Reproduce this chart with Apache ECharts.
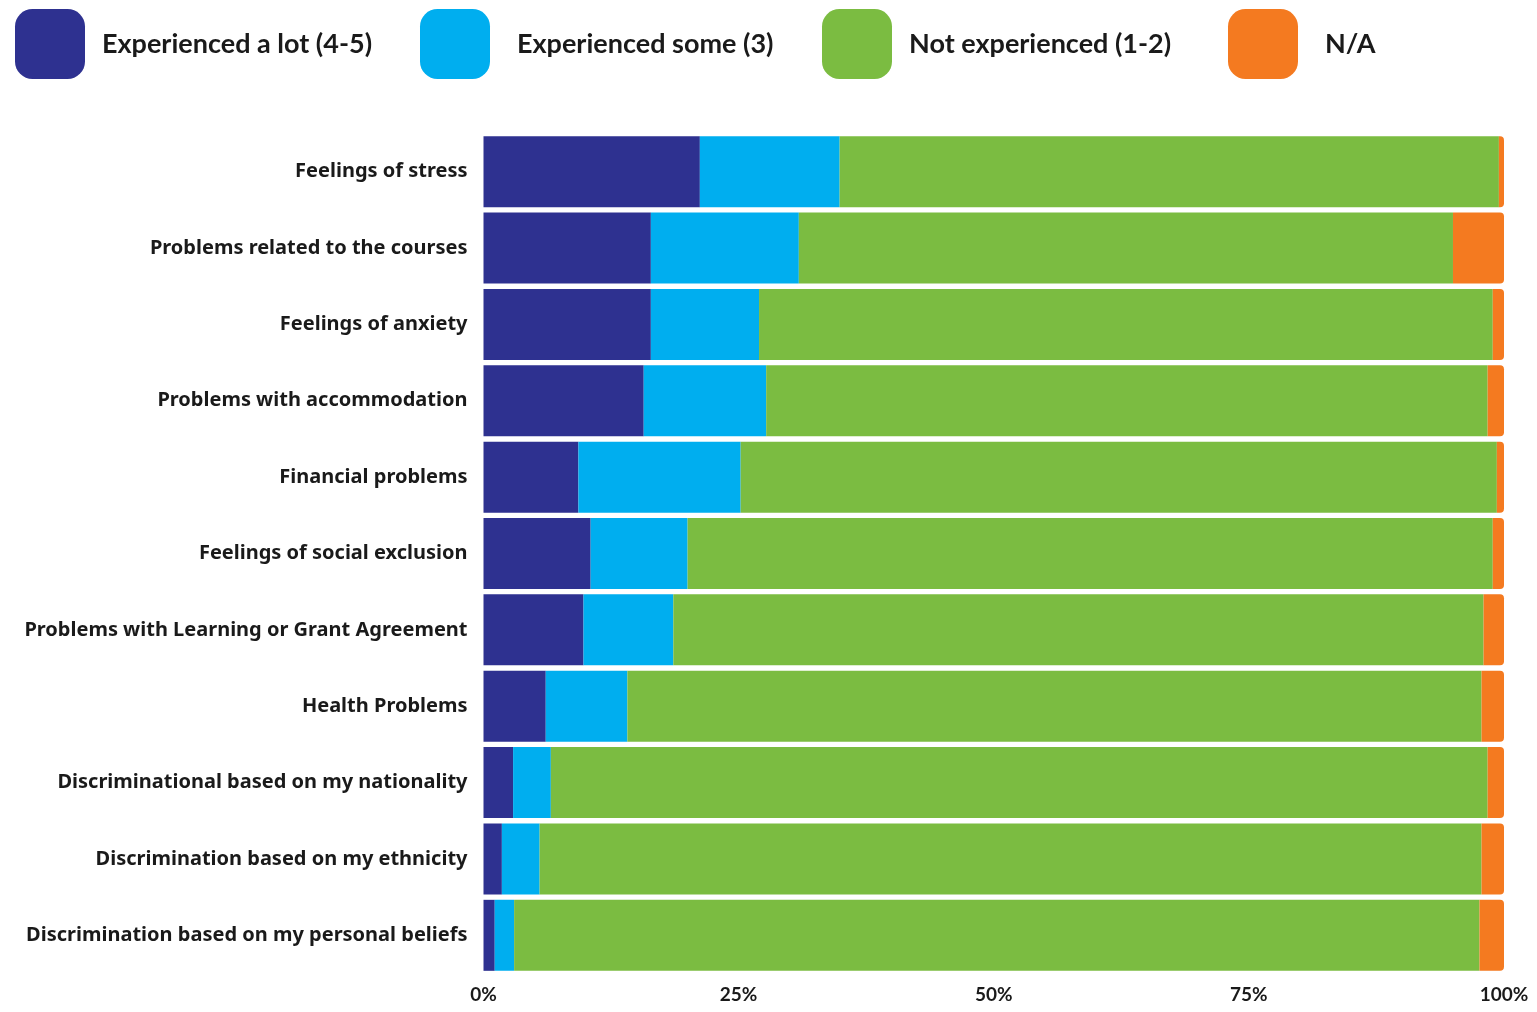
<!DOCTYPE html>
<html>
<head>
<meta charset="utf-8">
<script src="https://cdn.jsdelivr.net/npm/echarts@6/dist/echarts.min.js"></script>
<style>
html,body{margin:0;padding:0;background:#fff;}
#chart{width:1537px;height:1012px;}
</style>
</head>
<body>
<div id="chart"></div>
<script>
const categories = [
  'Feelings of stress',
  'Problems related to the courses',
  'Feelings of anxiety',
  'Problems with accommodation',
  'Financial problems',
  'Feelings of social exclusion',
  'Problems with Learning or Grant Agreement',
  'Health Problems',
  'Discriminational based on my nationality',
  'Discrimination based on my ethnicity',
  'Discrimination based on my personal beliefs'
];
const seriesNames = ['Experienced a lot (4-5)', 'Experienced some (3)', 'Not experienced (1-2)', 'N/A'];
const experiencedLot  = [21.2, 16.4, 16.4, 15.7,  9.3, 10.5,  9.8,  6.1,  2.9,  1.8,  1.1];
const experiencedSome = [13.7, 14.5, 10.6, 12.0, 15.9,  9.5,  8.8,  8.0,  3.7,  3.7,  1.9];
const notExperienced  = [64.6, 64.1, 71.9, 70.7, 74.1, 78.9, 79.4, 83.7, 91.8, 92.3, 94.6];
const notApplicable   = [ 0.5,  5.0,  1.1,  1.6,  0.7,  1.1,  2.0,  2.2,  1.6,  2.2,  2.4];
const xTicks = [0, 25, 50, 75, 100];

const colors = ['#2E3190', '#00AEEF', '#7BBC41', '#F47A20'];
const values = [experiencedLot, experiencedSome, notExperienced, notApplicable];

const chart = echarts.init(document.getElementById('chart'));

const legendLefts = [10, 415, 817, 1223];
const legendPads = [12, 22, 12, 22];

const option = {
  backgroundColor: '#ffffff',
  color: colors,
  legend: seriesNames.map((n, i) => ({
    data: [n],
    left: legendLefts[i],
    top: 4,
    itemWidth: 70,
    itemHeight: 70,
    icon: 'roundRect',
    selectedMode: false,
    textStyle: {
      fontFamily: 'Lato',
      fontWeight: 'bold',
      fontSize: 27,
      color: '#1a1a1a',
      padding: [0, 0, 0, legendPads[i]]
    }
  })),
  grid: {
    left: 483.5,
    right: 33,
    top: 133.5,
    bottom: 38.5,
    containLabel: false
  },
  xAxis: {
    type: 'value',
    min: xTicks[0],
    max: xTicks[xTicks.length - 1],
    interval: 25,
    axisLine: { show: false },
    axisTick: { show: false },
    splitLine: { show: false },
    axisLabel: {
      formatter: '{value}%',
      fontFamily: 'Lato',
      fontWeight: 'bold',
      fontSize: 19,
      color: '#1a1a1a',
      margin: 12
    }
  },
  yAxis: {
    type: 'category',
    data: categories,
    inverse: true,
    axisLine: { show: false },
    axisTick: { show: false },
    splitLine: { show: false },
    axisLabel: {
      fontFamily: '"Noto Sans", "Open Sans", sans-serif',
      fontWeight: 'bold',
      fontSize: 20,
      color: '#1a1a1a',
      margin: 16
    }
  },
  series: seriesNames.map((n, i) => ({
    name: n,
    type: 'bar',
    stack: 'total',
    data: values[i],
    barCategoryGap: '7%',
    itemStyle: {
      color: colors[i],
      borderRadius: i === 3 ? [0, 4, 4, 0] : 0
    },
    emphasis: { disabled: true }
  })),
  animation: false
};

chart.setOption(option);
</script>
</body>
</html>
